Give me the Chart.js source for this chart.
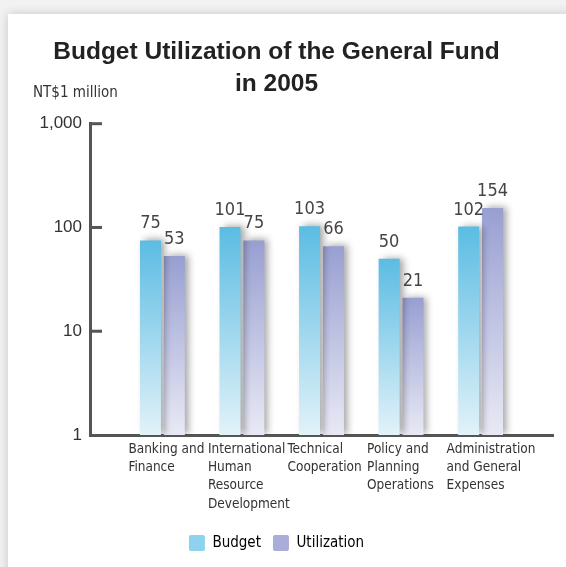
<!DOCTYPE html>
<html>
<head>
<meta charset="utf-8">
<script src="https://cdn.jsdelivr.net/npm/chart.js@4.4.1/dist/chart.umd.min.js"></script>
<style>
    html, body { margin: 0; padding: 0; background: #f2f2f2; }
    #card { position: absolute; left: 8px; top: 14px; width: 580px; height: 580px; background: #fff; box-shadow: 0 0 10px rgba(0,0,0,0.18); }
    #wrap { position: absolute; left: 0; top: 0; width: 566px; height: 567px; }
</style>
</head>
<body>
<div id="card"></div>
<div id="wrap"><canvas id="budgetChart"></canvas></div>
<script>
// data (NT$1 million)
const categories = [
    ['Banking and', 'Finance'],
    ['International', 'Human', 'Resource', 'Development'],
    ['Technical', 'Cooperation'],
    ['Policy and', 'Planning', 'Operations'],
    ['Administration', 'and General', 'Expenses']
];
const budget = [75, 101, 103, 50, 102];
const utilization = [53, 75, 66, 21, 154];
const yTicks = [1, 10, 100, 1000];

const narrow = '"Liberation Sans Narrow", "DejaVu Sans Condensed", "Roboto Condensed", Roboto, sans-serif';

function barFill(top, bottom) {
    return function (ctx) {
        const chart = ctx.chart;
        const area = chart.chartArea;
        if (!area || !ctx.parsed) return top;
        const y = chart.scales.y.getPixelForValue(ctx.parsed.y);
        const g = chart.ctx.createLinearGradient(0, y, 0, area.bottom);
        g.addColorStop(0, top);
        g.addColorStop(1, bottom);
        return g;
    };
}

// soft shadow behind the bars
const barShadow = {
    id: 'barShadow',
    beforeDatasetsDraw(chart) {
        const c = chart.ctx;
        c.save();
        c.shadowColor = 'rgba(0,0,0,0.35)';
        c.shadowBlur = 7;
        c.shadowOffsetX = 4;
        c.shadowOffsetY = -1;
    },
    afterDatasetsDraw(chart) {
        chart.ctx.restore();
    }
};

// values above bars, unit text, inward tick marks
const extras = {
    id: 'extras',
    afterDraw(chart) {
        const c = chart.ctx;
        const ys = chart.scales.y;
        c.save();
        c.fillStyle = '#444';
        c.font = '18px ' + narrow;
        c.textAlign = 'center';
        c.textBaseline = 'alphabetic';
        chart.data.datasets.forEach((ds, di) => {
            chart.getDatasetMeta(di).data.forEach((el, i) => {
                c.fillText(String(ds.data[i].y), el.x, el.y - 12);
            });
        });

        c.fillStyle = '#333';
        c.font = '15px ' + narrow;
        c.textAlign = 'left';
        c.textBaseline = 'middle';
        c.fillText('NT$1 million', 33, chart.chartArea.top - 31);

        c.strokeStyle = '#555';
        c.lineWidth = 3;
        yTicks.slice(1).forEach(v => {
            const py = ys.getPixelForValue(v);
            c.beginPath();
            c.moveTo(ys.right, py);
            c.lineTo(ys.right + 12, py);
            c.stroke();
        });
        c.restore();
    }
};

const legendColors = ['#8fd2ee', '#a9add8'];

new Chart(document.getElementById('budgetChart'), {
    type: 'bar',
    data: {
        datasets: [
            {
                label: 'Budget',
                data: budget.map((v, i) => ({ x: i, y: v })),
                backgroundColor: barFill('#5bbce3', '#e2f2f9'),
                borderWidth: 0
            },
            {
                label: 'Utilization',
                data: utilization.map((v, i) => ({ x: i, y: v })),
                backgroundColor: barFill('#989fd1', '#e9e9f5'),
                borderWidth: 0
            }
        ]
    },
    options: {
        responsive: true,
        maintainAspectRatio: false,
        animation: false,
        categoryPercentage: 0.6,
        barPercentage: 0.88,
        layout: { padding: { left: 0, right: 13, top: 0, bottom: 6 } },
        plugins: {
            title: {
                display: true,
                text: ['Budget Utilization of the General Fund', 'in 2005'],
                color: '#222',
                font: { family: '"Liberation Sans", Arial, sans-serif', size: 24.5, weight: 'bold', lineHeight: 1.3 },
                padding: { top: 36, bottom: 24 }
            },
            legend: {
                position: 'bottom',
                labels: {
                    color: '#333',
                    font: { family: narrow, size: 15 },
                    boxWidth: 16,
                    boxHeight: 16,
                    useBorderRadius: true,
                    borderRadius: 2,
                    padding: 12,
                    generateLabels: chart => chart.data.datasets.map((ds, i) => ({
                        text: ds.label,
                        fillStyle: legendColors[i],
                        strokeStyle: legendColors[i],
                        lineWidth: 0,
                        borderRadius: 2,
                        hidden: false,
                        datasetIndex: i
                    }))
                }
            },
            tooltip: { enabled: false }
        },
        scales: {
            x: {
                type: 'linear',
                min: -0.91,
                max: 4.91,
                offset: false,
                afterBuildTicks: s => { s.ticks = categories.map((c, i) => ({ value: i })); },
                afterFit: s => { s.height = 88; s.paddingLeft = 0; s.paddingRight = 0; },
                border: { color: '#555', width: 3 },
                grid: { display: false, drawTicks: false },
                ticks: {
                    autoSkip: false,
                    maxRotation: 0,
                    minRotation: 0,
                    align: 'start',
                    labelOffset: -34,
                    padding: 5,
                    color: '#333',
                    font: { family: narrow, size: 13.5, lineHeight: 1.36 },
                    callback: v => categories[v]
                }
            },
            y: {
                type: 'logarithmic',
                min: 1,
                max: 1000,
                afterBuildTicks: s => { s.ticks = yTicks.map(v => ({ value: v })); },
                afterFit: s => { s.width = 90; s.paddingTop = 0; s.paddingBottom = 0; },
                border: { color: '#555', width: 3 },
                grid: { display: false, drawTicks: false },
                ticks: {
                    padding: 8,
                    color: '#333',
                    font: { family: '"Liberation Sans", Arial, sans-serif', size: 17 },
                    callback: v => v.toLocaleString('en-US')
                }
            }
        }
    },
    plugins: [barShadow, extras]
});
</script>
</body>
</html>
